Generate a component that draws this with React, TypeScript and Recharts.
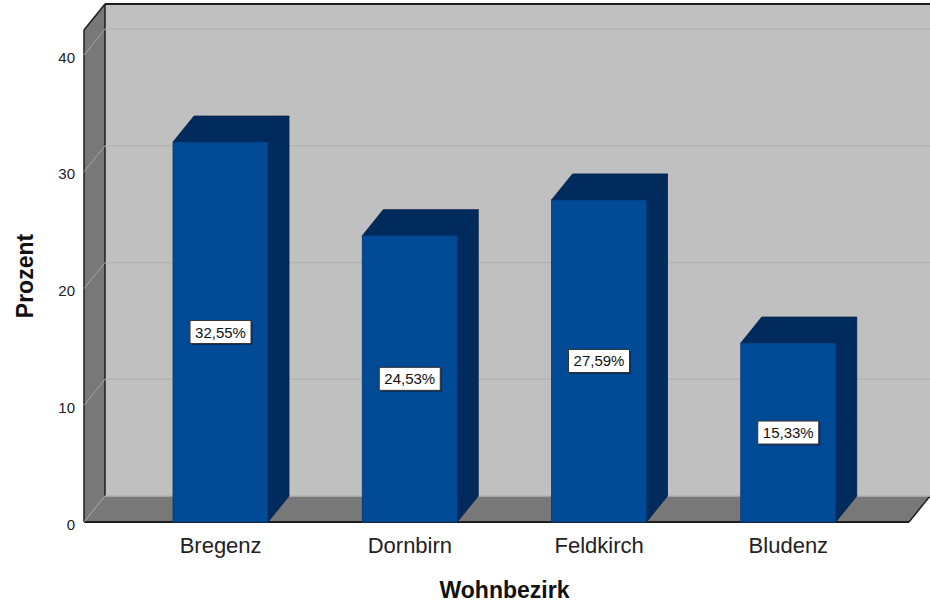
import { Bar, BarChart, ReferenceArea, ReferenceLine, XAxis, YAxis } from 'recharts'

const districts = ['Bregenz', 'Dornbirn', 'Feldkirch', 'Bludenz']
const percents = [32.55, 24.53, 27.59, 15.33]
const percentTicks = [0, 10, 20, 30, 40]
const percentMax = 42.15

const chartData = districts.map((name, i) => ({ name, percent: percents[i] }))

// 3D look: depth offset of the back plane, extra room left/right of the bands
const DEPTH_X = 21
const DEPTH_Y = 26
const PAD_LEFT = 42
const PAD_RIGHT = 26
const FONT = '"Liberation Sans", Arial, sans-serif'

const formatPercent = (v: number) => `${v.toFixed(2).replace('.', ',')}%`

function Walls(props: any) {
  const { x, y, width, height } = props
  const left = x - PAD_LEFT
  const right = x + width + PAD_RIGHT
  const top = y
  const bottom = y + height
  const bx = DEPTH_X
  const by = DEPTH_Y
  return (
    <g>
      <rect x={left + bx} y={top - by} width={right - left} height={bottom - top} fill='#c0c0c0' />
      <polygon
        points={`${left},${top} ${left + bx},${top - by} ${left + bx},${bottom - by} ${left},${bottom}`}
        fill='#787878'
      />
      <polygon
        points={`${left},${bottom} ${left + bx},${bottom - by} ${right + bx},${bottom - by} ${right},${bottom}`}
        fill='#787878'
      />
      <line x1={left + bx} y1={top - by} x2={right + bx} y2={top - by} stroke='#1e1e1e' strokeWidth={2} />
      <line x1={left + bx} y1={top - by} x2={left + bx} y2={bottom - by} stroke='#1e1e1e' strokeWidth={1.5} />
      <line x1={left} y1={top} x2={left + bx} y2={top - by} stroke='#1e1e1e' strokeWidth={1.5} />
      <line x1={left} y1={top} x2={left} y2={bottom} stroke='#1e1e1e' strokeWidth={1.5} />
      <line x1={left} y1={bottom} x2={right} y2={bottom} stroke='#1e1e1e' strokeWidth={2} />
      <line x1={right} y1={bottom} x2={right + bx} y2={bottom - by} stroke='#1e1e1e' strokeWidth={1.5} />
    </g>
  )
}

// reference lines already span the full plot width (without the band padding)
function GridLine(props: any) {
  const { x1, x2, y1 } = props
  const left = Math.min(x1, x2)
  const right = Math.max(x1, x2)
  return (
    <g>
      <line
        x1={left + DEPTH_X}
        y1={y1 - DEPTH_Y}
        x2={right + DEPTH_X}
        y2={y1 - DEPTH_Y}
        stroke='#b3b3b3'
        strokeWidth={1.5}
      />
      <line x1={left} y1={y1} x2={left + DEPTH_X} y2={y1 - DEPTH_Y} stroke='#a4a4a4' strokeWidth={1} />
    </g>
  )
}

function Bar3D(props: any) {
  const { x, y, width, height, payload } = props
  const cx = x + width / 2
  const cy = y + height / 2
  const boxW = 61
  const boxH = 23
  return (
    <g>
      <polygon
        points={`${x},${y} ${x + DEPTH_X},${y - DEPTH_Y} ${x + width + DEPTH_X},${y - DEPTH_Y} ${x + width},${y}`}
        fill='#002b5c'
        stroke='#00224a'
        strokeWidth={0.8}
      />
      <polygon
        points={`${x + width},${y} ${x + width + DEPTH_X},${y - DEPTH_Y} ${x + width + DEPTH_X},${y + height - DEPTH_Y} ${x + width},${y + height}`}
        fill='#002b5c'
        stroke='#00224a'
        strokeWidth={0.8}
      />
      <rect x={x} y={y} width={width} height={height} fill='#004a96' stroke='#003874' strokeWidth={0.8} />
      <rect x={cx - boxW / 2 + 1.5} y={cy - boxH / 2 + 1.5} width={boxW} height={boxH} fill='#0a1a33' opacity={0.6} />
      <rect x={cx - boxW / 2} y={cy - boxH / 2} width={boxW} height={boxH} fill='#ffffff' stroke='#333333' strokeWidth={1} />
      <text x={cx} y={cy + 5.5} textAnchor='middle' fontSize={15} fontFamily={FONT} fill='#111'>
        {formatPercent(payload.percent)}
      </text>
    </g>
  )
}

function PercentTick(props: any) {
  const { x, y, payload } = props
  return (
    <text x={x - 1} y={y + 7.5} textAnchor='end' fontSize={15} fontFamily={FONT} fill='#222'>
      {payload.value}
    </text>
  )
}

function DistrictTick(props: any) {
  const { x, y, payload } = props
  return (
    <text x={x} y={y + 23} textAnchor='middle' fontSize={22} fontFamily={FONT} fill='#222'>
      {payload.value}
    </text>
  )
}

export default function App() {
  return (
    <div style={{ position: 'absolute', left: 0, top: 0, width: 930, height: 606, background: '#fff' }}>
      <BarChart width={930} height={606} data={chartData} margin={{ top: 30, right: 21, bottom: 0, left: 0 }}>
        <ReferenceArea shape={Walls} zIndex={50} />
        {percentTicks.map((t) => (
          <ReferenceLine key={t} y={t} shape={GridLine} zIndex={150} />
        ))}
        <XAxis
          dataKey='name'
          height={84}
          padding={{ left: PAD_LEFT, right: PAD_RIGHT }}
          axisLine={false}
          tickLine={false}
          tick={DistrictTick}
          interval={0}
          label={(p: any) => {
            const vb = p.viewBox
            return (
              <text
                x={vb.x + PAD_LEFT + (vb.width - PAD_LEFT - PAD_RIGHT) / 2}
                y={598}
                textAnchor='middle'
                fontSize={23}
                fontWeight='bold'
                fontFamily={FONT}
                fill='#111'
              >
                Wohnbezirk
              </text>
            )
          }}
        />
        <YAxis
          width={84}
          domain={[0, percentMax]}
          ticks={percentTicks}
          axisLine={false}
          tickLine={false}
          tick={PercentTick}
          label={(p: any) => {
            const vb = p.viewBox
            const cy = vb.y + vb.height / 2
            return (
              <text
                transform={`translate(33, ${cy}) rotate(-90)`}
                textAnchor='middle'
                fontSize={23}
                fontWeight='bold'
                fontFamily={FONT}
                fill='#111'
              >
                Prozent
              </text>
            )
          }}
        />
        <Bar dataKey='percent' barSize={95} shape={Bar3D} isAnimationActive={false} />
      </BarChart>
    </div>
  )
}
